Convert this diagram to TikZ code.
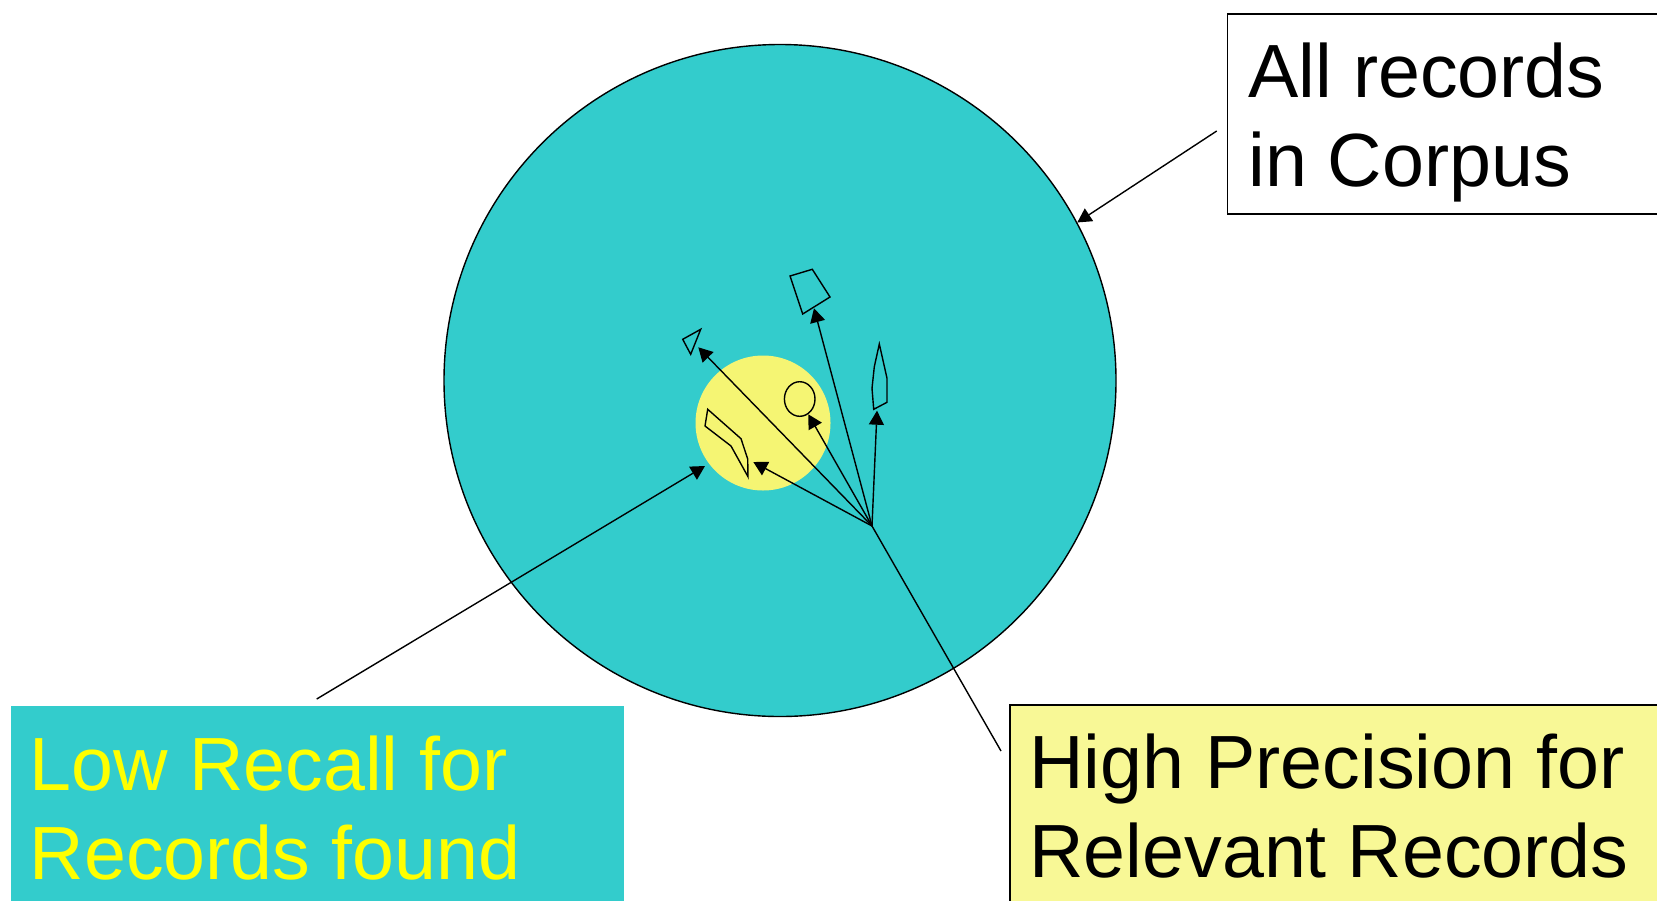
\documentclass[tikz,border=0pt]{standalone}
\usepackage{fontspec}
\setmainfont{Liberation Sans}
\usepackage{xcolor}
\usepackage{tikz}
\usetikzlibrary{positioning}
\usetikzlibrary{arrows.meta}
\usetikzlibrary{calc}

\definecolor{corpuscyan}{RGB}{51,204,204}
\definecolor{foundyellow}{RGB}{245,245,115}
\definecolor{notepale}{RGB}{248,248,150}
\definecolor{noteyellow}{RGB}{255,255,0}

\begin{document}
\begin{tikzpicture}[x=0.5pt, y=-0.5pt,
		pointer/.style={-{Triangle[length=7pt, width=7.5pt]}, line width=0.7pt},
		record/.style={line width=0.7pt},
		notetext/.style={anchor=base west, inner sep=0pt, align=left, font=\fontsize{37.7}{44.5}\selectfont},
		notebox/.style={anchor=north west, inner sep=0pt, minimum height=100pt}]
		\useasboundingbox (0,0) rectangle (1657,900);

		% Whole corpus and the records found
		\node[circle, draw, line width=0.7pt, fill=corpuscyan, minimum size=336pt, inner sep=0pt] (corpus) at (780,380.5) {};
		\node[circle, fill=foundyellow, minimum size=67.5pt, inner sep=0pt] (found) at (763,423) {};

		% Relevant records
		\draw[record] (682.7,339.3) -- (700.7,329.3) -- (690.7,354.3) -- cycle;
		\draw[record] (790,276) -- (812.3,269.3) -- (830,297) -- (802.7,314) -- cycle;
		\draw[record] (879.3,344) -- (887,378.3) -- (887,402.3) -- (873.7,409.3) -- (872,388.3) -- (874.3,366.7) -- cycle;
		\draw[record] (799.7,399) ellipse (7.65pt and 8.65pt);
		\draw[record] (707.7,409.3) -- (741,438.7) -- (747.7,459) -- (748,476.7) -- (731,446) -- (705,426) -- cycle;

		% Labels (base is the last line)
		\node[notebox, fill=corpuscyan, minimum width=306.5pt] (recallbox) at (11,705.7) {};
		\node[notetext, text=noteyellow] (recall) at (29.5,879) {Low Recall for\\Records found};

		\node[notebox, draw, line width=0.75pt, fill=notepale, minimum width=330pt] (precisionbox) at (1009.3,704) {};
		\node[notetext] (precision) at (1029,877.7) {High Precision for\\Relevant Records};

		\node[notebox, draw, line width=0.75pt, minimum width=230pt] (corpusbox) at (1226.7,13.3) {};
		\node[notetext] (corpustext) at (1248,186.7) {All records\\in Corpus};

		% Pointers
		\coordinate (hub) at (872,526);
		\coordinate (corpusfrom) at (1216.7,131);
		\coordinate (recallfrom) at (316.7,699);
		\coordinate (recallto) at (705,466);
		\coordinate (precisionfrom) at (1001,751);
		\foreach \name/\x/\y in {tri/698.3/347.3, quad/814/308.3, tall/877/410.7, oval/808.3/414.3, bent/753.3/462} {
				\coordinate (\name) at (\x,\y);
				\draw[pointer] (hub) -- (\name);
			}
		\draw[record] (precisionfrom) -- (hub);
		\draw[pointer] (corpusfrom) -- (corpus.28.7);
		\draw[pointer] (recallfrom) -- (recallto);
	\end{tikzpicture}
\end{document}
